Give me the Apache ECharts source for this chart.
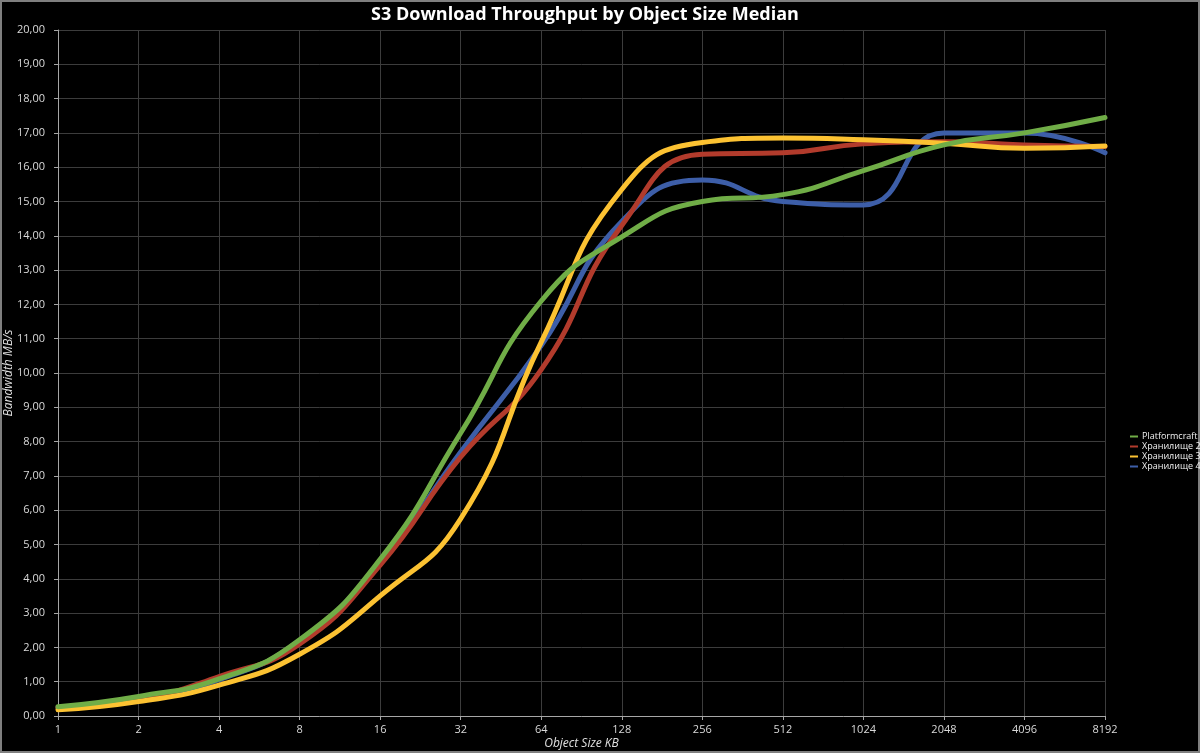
<!DOCTYPE html>
<html>
<head>
<meta charset="utf-8">
<script src="https://cdn.jsdelivr.net/npm/echarts@6/dist/echarts.min.js"></script>
<style>
html,body{margin:0;padding:0;background:#000;}
#wrap{width:1200px;height:753px;box-sizing:border-box;border:2px solid #7f7f7f;background:#000;position:relative;}
#chart{position:absolute;left:-2px;top:-2px;width:1200px;height:753px;}
</style>
</head>
<body>
<div id="wrap"><div id="chart"></div></div>
<script>
const categories = ['1','2','4','8','16','32','64','128','256','512','1024','2048','4096','8192'];
const seriesNames = ['Platformcraft','Хранилище 2','Хранилище 3','Хранилище 4'];
const platformcraft = [0.27, 0.57, 1.08, 2.22, 4.57, 8.25, 12.1, 13.97, 15.0, 15.2, 15.9, 16.65, 17.0, 17.45];
const storage2      = [0.24, 0.47, 1.15, 2.1, 4.4, 7.55, 10.1, 14.3, 16.38, 16.42, 16.68, 16.74, 16.65, 16.6];
const storage3      = [0.18, 0.42, 0.9, 1.8, 3.5, 5.75, 10.9, 15.35, 16.72, 16.85, 16.8, 16.7, 16.55, 16.62];
const storage4      = [0.25, 0.53, 1.06, 2.2, 4.48, 7.7, 10.8, 14.42, 15.63, 15.0, 14.9, 17.0, 17.0, 16.42];
const colors = ['#70ad47', '#b23b2c', '#fcc232', '#3d5ea8'];
const yTicks = {min: 0, max: 20, interval: 1};

const chart = echarts.init(document.getElementById('chart'));
const dataList = [platformcraft, storage2, storage3, storage4];
const zs = [5, 3, 4, 2];
chart.setOption({
  backgroundColor: 'transparent',
  animation: false,
  title: {
    text: 'S3 Download Throughput by Object Size Median',
    left: 580, top: 1, textAlign: 'center',
    textStyle: {color: '#ffffff', fontSize: 18, fontWeight: 'bold', fontFamily: 'Open Sans'}
  },
  legend: {
    orient: 'vertical', left: 1125, top: 427,
    itemWidth: 8, itemHeight: 2, itemGap: 1,
    icon: 'rect',
    data: seriesNames,
    textStyle: {color: '#f0f0f0', fontSize: 9, fontFamily: 'Open Sans', padding: [0,0,0,-1]}
  },
  grid: {left: 58, right: 95, top: 30, bottom: 37, outerBoundsMode: 'none', containLabel: false},
  xAxis: {
    type: 'category', boundaryGap: false, data: categories,
    name: 'Object Size KB', nameLocation: 'middle', nameGap: 22, nameMoveOverlap: false,
    nameTextStyle: {color: '#e0e0e0', fontSize: 12, fontStyle: 'italic', fontFamily: 'Open Sans'},
    axisLine: {lineStyle: {color: '#a6a6a6', width: 1}},
    axisTick: {show: true, length: 4, lineStyle: {color: '#a6a6a6'}},
    axisLabel: {color: '#d9d9d9', fontSize: 11, fontFamily: 'Open Sans', margin: 8},
    splitLine: {show: true, lineStyle: {color: '#3c3c3c', width: 1}}
  },
  yAxis: {
    type: 'value', min: yTicks.min, max: yTicks.max, interval: yTicks.interval,
    name: 'Bandwidth MB/s', nameLocation: 'middle', nameGap: 43, nameRotate: 90, nameMoveOverlap: false,
    nameTextStyle: {color: '#e0e0e0', fontSize: 12, fontStyle: 'italic', fontFamily: 'Open Sans'},
    axisLine: {show: true, lineStyle: {color: '#a6a6a6', width: 1}},
    axisTick: {show: true, length: 4, lineStyle: {color: '#a6a6a6'}},
    axisLabel: {color: '#d9d9d9', fontSize: 11, fontFamily: 'Open Sans', margin: 13,
      formatter: v => v.toFixed(2).replace('.', ',')},
    splitLine: {show: true, lineStyle: {color: '#3c3c3c', width: 1}}
  },
  series: seriesNames.map((n, i) => ({
    name: n, type: 'line', data: dataList[i], smooth: 0.5,
    showSymbol: false, symbol: 'none', z: zs[i],
    lineStyle: {color: colors[i], width: 5, cap: 'round'},
    itemStyle: {color: colors[i]}
  }))
});
</script>
</body>
</html>
